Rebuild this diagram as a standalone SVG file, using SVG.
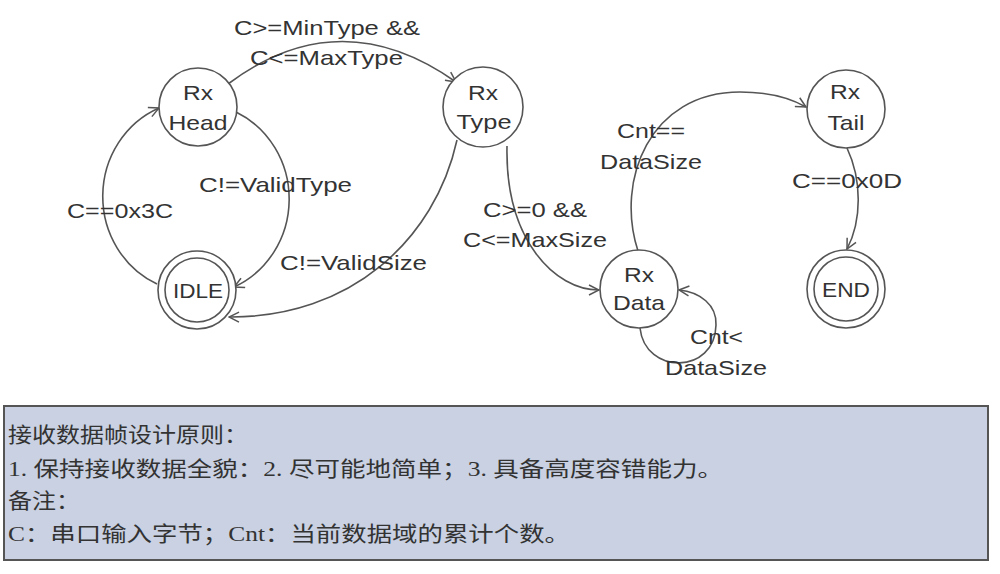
<svg xmlns="http://www.w3.org/2000/svg" width="1000" height="574" viewBox="0 0 1000 574">
<style>
.node{fill:#fff;stroke:#555;stroke-width:1.6}
.edge{fill:none;stroke:#555;stroke-width:1.6;marker-end:url(#arr)}
.lbl{font-family:"Liberation Sans",Arial,sans-serif;font-size:21px;fill:#333}
.mid{text-anchor:middle}
.note{font-family:"Liberation Serif","Noto Sans CJK SC",serif;font-size:21px;fill:#333}
</style>
<defs>
<marker id="arr" viewBox="0 0 12 12" refX="11" refY="6" markerWidth="12" markerHeight="12" markerUnits="userSpaceOnUse" orient="auto">
<path d="M1,1 L11,6 L1,11" fill="none" stroke="#555" stroke-width="1.5"/>
</marker>
</defs>
<rect width="1000" height="574" fill="#fff"/>
<g id="connectors">
<path class="edge" d="M157,284 A92 96 0 0 1 159,108"/>
<path class="edge" d="M236,112 A92 96 0 0 1 234,287"/>
<path class="edge" d="M228,84 Q340,0 456,82"/>
<path class="edge" d="M457,140 C435,240 350,318 229,317"/>
<path class="edge" d="M507,146 C505,240 555,290 599,290"/>
<path class="edge" d="M638,251 C615,180 650,92 740,92 C770,92 790,98 806,107"/>
<path class="edge" d="M640,328 C645,375 715,375 716,325 C717,305 700,292 679,290"/>
<path class="edge" d="M847,148 C862,180 862,220 847,249"/>
</g>
<g id="labels">
<text class="lbl" x="234" y="35" textLength="186" lengthAdjust="spacingAndGlyphs">C&gt;=MinType &amp;&amp;</text>
<text class="lbl" x="250" y="65" textLength="153" lengthAdjust="spacingAndGlyphs">C&lt;=MaxType</text>
<text class="lbl" x="199" y="192" textLength="153" lengthAdjust="spacingAndGlyphs">C!=ValidType</text>
<text class="lbl" x="67" y="218" textLength="106" lengthAdjust="spacingAndGlyphs">C==0x3C</text>
<text class="lbl" x="280" y="270" textLength="147" lengthAdjust="spacingAndGlyphs">C!=ValidSize</text>
<text class="lbl" x="617" y="138" textLength="68" lengthAdjust="spacingAndGlyphs">Cnt==</text>
<text class="lbl" x="600" y="169" textLength="102" lengthAdjust="spacingAndGlyphs">DataSize</text>
<text class="lbl" x="483" y="217" textLength="104" lengthAdjust="spacingAndGlyphs">C&gt;=0 &amp;&amp;</text>
<text class="lbl" x="463" y="247" textLength="144" lengthAdjust="spacingAndGlyphs">C&lt;=MaxSize</text>
<text class="lbl" x="690" y="344" textLength="53" lengthAdjust="spacingAndGlyphs">Cnt&lt;</text>
<text class="lbl" x="665" y="375" textLength="102" lengthAdjust="spacingAndGlyphs">DataSize</text>
<text class="lbl" x="792" y="188" textLength="110" lengthAdjust="spacingAndGlyphs">C==0x0D</text>
</g>
<g id="RxHead">
<circle class="node" cx="198" cy="107" r="39"/>
<text class="lbl mid" x="198" y="100" textLength="30" lengthAdjust="spacingAndGlyphs">Rx</text>
<text class="lbl mid" x="198" y="130" textLength="59" lengthAdjust="spacingAndGlyphs">Head</text>
</g>
<g id="RxType">
<circle class="node" cx="483" cy="107" r="40"/>
<text class="lbl mid" x="483" y="100" textLength="30" lengthAdjust="spacingAndGlyphs">Rx</text>
<text class="lbl mid" x="484" y="129" textLength="55" lengthAdjust="spacingAndGlyphs">Type</text>
</g>
<g id="IDLE">
<circle class="node" cx="197" cy="290" r="39"/>
<circle class="node" cx="197" cy="290" r="32"/>
<text class="lbl mid" x="198" y="298" textLength="50" lengthAdjust="spacingAndGlyphs">IDLE</text>
</g>
<g id="RxData">
<circle class="node" cx="639" cy="289" r="39"/>
<text class="lbl mid" x="639" y="282" textLength="30" lengthAdjust="spacingAndGlyphs">Rx</text>
<text class="lbl mid" x="639" y="310" textLength="52" lengthAdjust="spacingAndGlyphs">Data</text>
</g>
<g id="RxTail">
<circle class="node" cx="846" cy="109" r="39"/>
<text class="lbl mid" x="845" y="99" textLength="30" lengthAdjust="spacingAndGlyphs">Rx</text>
<text class="lbl mid" x="846" y="130" textLength="37" lengthAdjust="spacingAndGlyphs">Tail</text>
</g>
<g id="END">
<circle class="node" cx="846" cy="289" r="39"/>
<circle class="node" cx="846" cy="289" r="32"/>
<text class="lbl mid" x="846" y="297" textLength="48" lengthAdjust="spacingAndGlyphs">END</text>
</g>
<g id="notes">
<rect x="4" y="406" width="984" height="154" fill="#c9d1e2" stroke="#555" stroke-width="2"/>
<text class="note" x="8" y="442" textLength="240" lengthAdjust="spacingAndGlyphs">接收数据帧设计原则：</text>
<text class="note" x="8" y="476" textLength="715" lengthAdjust="spacingAndGlyphs">1. 保持接收数据全貌：2. 尽可能地简单；3. 具备高度容错能力。</text>
<text class="note" x="8" y="508" textLength="72" lengthAdjust="spacingAndGlyphs">备注：</text>
<text class="note" x="8" y="541" textLength="562" lengthAdjust="spacingAndGlyphs">C：串口输入字节；Cnt：当前数据域的累计个数。</text>
</g>
</svg>
